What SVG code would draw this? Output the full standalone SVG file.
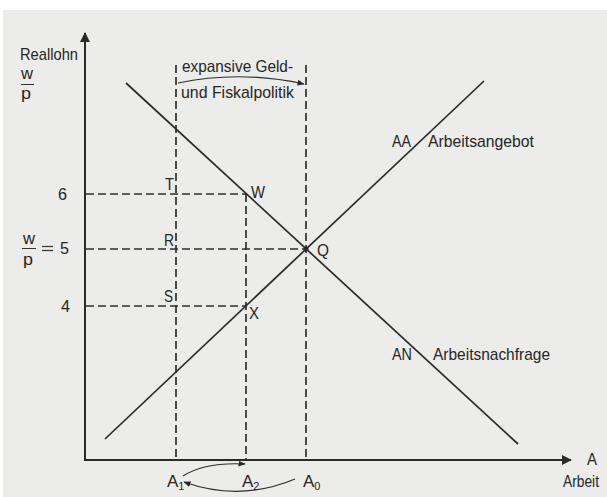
<svg xmlns="http://www.w3.org/2000/svg" width="607" height="497" viewBox="0 0 607 497">
<style>
text{font-family:"Liberation Sans",Arial,sans-serif;fill:#262626;font-size:17px}
.sub{font-size:11px}
.axis{stroke:#2a2a2a;stroke-width:2;fill:none}
.curve{stroke:#2a2a2a;stroke-width:1.7;fill:none}
.dash{stroke:#2e2e2e;stroke-width:1.7;fill:none;stroke-dasharray:8 4}
.thin{stroke:#2e2e2e;stroke-width:1.2;fill:none}
</style>
<defs>
<marker id="big" viewBox="0 0 10 10" refX="9" refY="5" markerWidth="5" markerHeight="5" orient="auto" markerUnits="strokeWidth">
<path d="M0,0 L10,5 L0,10 Z" fill="#2a2a2a"/>
</marker>
<marker id="small" viewBox="0 0 10 10" refX="9" refY="5" markerWidth="6" markerHeight="6" orient="auto" markerUnits="strokeWidth">
<path d="M0,1 L10,5 L0,9 Z" fill="#2a2a2a"/>
</marker>
</defs>
<rect x="0" y="0" width="607" height="497" fill="#ffffff"/>
<rect x="3" y="10" width="604" height="487" fill="#ececea"/>

<g id="connectors">
<line class="axis" x1="85" y1="461" x2="85" y2="33" marker-end="url(#big)"/>
<line class="axis" x1="84" y1="460" x2="571" y2="460" marker-end="url(#big)"/>
<line class="dash" x1="176" y1="65" x2="176" y2="460"/>
<line class="dash" x1="306" y1="65" x2="306" y2="460"/>
<line class="dash" x1="246" y1="194" x2="246" y2="460"/>
<line class="dash" x1="86" y1="194" x2="246" y2="194"/>
<line class="dash" x1="86" y1="249" x2="306" y2="249"/>
<line class="dash" x1="86" y1="306" x2="246" y2="306"/>
<line class="curve" x1="126" y1="83" x2="518" y2="444"/>
<line class="curve" x1="105" y1="439" x2="484" y2="81"/>
<path class="thin" d="M178,83 Q240,70 304,84" marker-end="url(#small)"/>
<path class="thin" d="M183,476 Q205,462 245,464" marker-end="url(#small)"/>
<path class="thin" d="M295,479 Q240,502 184,482" marker-end="url(#small)"/>
</g>

<g id="point-Q"><circle cx="306" cy="249" r="2.5" fill="#2a2a2a"/><text x="317" y="256" textLength="12" lengthAdjust="spacingAndGlyphs">Q</text></g>
<g id="point-W"><text x="251" y="198" textLength="14" lengthAdjust="spacingAndGlyphs">W</text></g>
<g id="point-X"><text x="249" y="319" textLength="10" lengthAdjust="spacingAndGlyphs">X</text></g>
<g id="point-T"><text x="165" y="190" textLength="9" lengthAdjust="spacingAndGlyphs">T</text></g>
<g id="point-R"><text x="164" y="246" textLength="10" lengthAdjust="spacingAndGlyphs">R</text></g>
<g id="point-S"><text x="164" y="302" textLength="9" lengthAdjust="spacingAndGlyphs">S</text></g>

<g id="y-label">
<text x="20" y="60" textLength="58" lengthAdjust="spacingAndGlyphs">Reallohn</text>
<text x="21" y="79" textLength="12" lengthAdjust="spacingAndGlyphs">w</text>
<line x1="21" y1="84.5" x2="34" y2="84.5" stroke="#333" stroke-width="1"/>
<text x="21" y="99" textLength="10" lengthAdjust="spacingAndGlyphs">p</text>
</g>
<g id="tick-6"><text x="58" y="200" textLength="9" lengthAdjust="spacingAndGlyphs">6</text></g>
<g id="tick-5">
<text x="23" y="244" textLength="12" lengthAdjust="spacingAndGlyphs">w</text>
<line x1="22" y1="248.5" x2="36" y2="248.5" stroke="#333" stroke-width="1"/>
<text x="23" y="265" textLength="10" lengthAdjust="spacingAndGlyphs">p</text>
<line x1="42" y1="246.5" x2="53" y2="246.5" stroke="#333" stroke-width="1.2"/>
<line x1="42" y1="250.5" x2="53" y2="250.5" stroke="#333" stroke-width="1.2"/>
<text x="60" y="254" textLength="9" lengthAdjust="spacingAndGlyphs">5</text>
</g>
<g id="tick-4"><text x="61" y="312" textLength="9" lengthAdjust="spacingAndGlyphs">4</text></g>

<g id="policy-label">
<text x="182" y="72" textLength="111" lengthAdjust="spacingAndGlyphs">expansive Geld-</text>
<text x="181" y="98" textLength="113" lengthAdjust="spacingAndGlyphs">und Fiskalpolitik</text>
</g>

<g id="AA-label">
<text x="392" y="147" textLength="19" lengthAdjust="spacingAndGlyphs">AA</text>
<text x="428" y="147" textLength="106" lengthAdjust="spacingAndGlyphs">Arbeitsangebot</text>
</g>
<g id="AN-label">
<text x="392" y="360" textLength="20" lengthAdjust="spacingAndGlyphs">AN</text>
<text x="433" y="360" textLength="117" lengthAdjust="spacingAndGlyphs">Arbeitsnachfrage</text>
</g>

<g id="A1"><text x="167" y="487">A<tspan class="sub" dy="3">1</tspan></text></g>
<g id="A2"><text x="242" y="487">A<tspan class="sub" dy="3">2</tspan></text></g>
<g id="A0"><text x="303" y="487">A<tspan class="sub" dy="3">0</tspan></text></g>

<g id="x-label">
<text x="587" y="465" textLength="10" lengthAdjust="spacingAndGlyphs">A</text>
<text x="563" y="487" font-size="15" textLength="36" lengthAdjust="spacingAndGlyphs">Arbeit</text>
</g>
</svg>
